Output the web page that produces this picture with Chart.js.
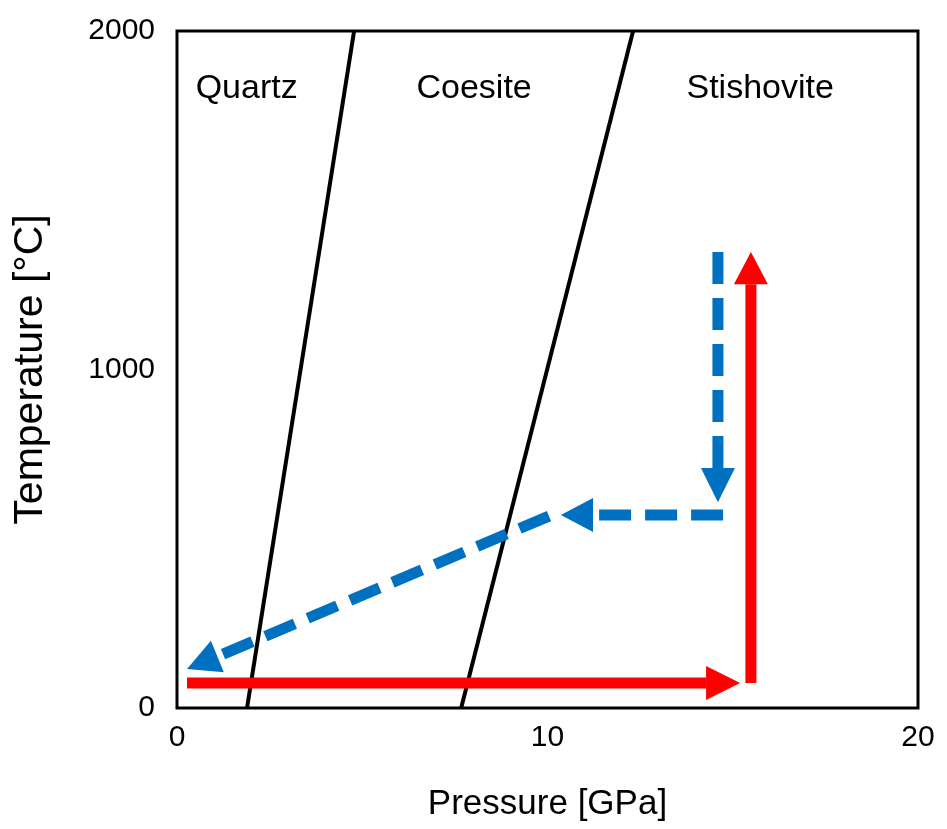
<!DOCTYPE html>
<html>
<head>
<meta charset="utf-8">
<script src="https://cdn.jsdelivr.net/npm/chart.js@4.4.1/dist/chart.umd.min.js"></script>
<style>
  html, body { margin: 0; padding: 0; background: #fff; }
</style>
</head>
<body>
<canvas id="phaseChart" width="947" height="829"></canvas>
<script>
// axis ranges / ticks
const xRange = [0, 20];
const yRange = [0, 2000];
const xStep = 10;
const yStep = 1000;

// phase boundaries (pressure GPa, temperature C)
const quartzCoesite = [{ x: 1.89, y: 0 }, { x: 4.78, y: 2000 }];
const coesiteStishovite = [{ x: 7.67, y: 0 }, { x: 12.31, y: 2000 }];

// phase labels
const phaseNames = ['Quartz', 'Coesite', 'Stishovite'];
const phaseX = [1.88, 8.02, 15.74];
const phaseY = [1829, 1829, 1829];

// compression path (red): line points end at arrow base, tip separately
const redAcross = [{ x: 0.27, y: 74 }, { x: 14.28, y: 74 }];
const redAcrossTip = { x: 15.2, y: 74 };
const redUp = [{ x: 15.49, y: 74 }, { x: 15.49, y: 1252 }];
const redUpTip = { x: 15.49, y: 1347 };

// decompression path (blue dashed)
const blueDown = [{ x: 14.6, y: 1347 }, { x: 14.6, y: 709 }];
const blueDownTip = { x: 14.6, y: 608 };
const blueBack = [{ x: 14.74, y: 570 }, { x: 11.23, y: 570 }];
const blueBackTip = { x: 10.36, y: 570 };
const blueDiag = [{ x: 10.04, y: 567 }, { x: 1.09, y: 152 }];
const blueDiagTip = { x: 0.27, y: 115 };

const RED = '#ff0000';
const BLUE = '#0070c0';

Chart.defaults.font.family = "'Liberation Sans', Arial, sans-serif";
Chart.defaults.color = '#000';

function boundary(data) {
  return { data: data, borderColor: '#000', borderWidth: 4, showLine: true, pointRadius: 0, order: 2 };
}
function arrow(data, tip, color, dashed) {
  return {
    data: data, tip: tip, borderColor: color, borderWidth: 11, showLine: true,
    pointRadius: 0, borderCapStyle: 'butt', borderDash: dashed ? [32, 14] : [], order: 1
  };
}

// draws the triangle heads from the last line point to the tip
const arrowHeads = {
  id: 'arrowHeads',
  afterDatasetsDraw(chart) {
    const { ctx, scales: { x, y } } = chart;
    chart.data.datasets.forEach(ds => {
      if (!ds.tip) return;
      const last = ds.data[ds.data.length - 1];
      const bx = x.getPixelForValue(last.x), by = y.getPixelForValue(last.y);
      const tx = x.getPixelForValue(ds.tip.x), ty = y.getPixelForValue(ds.tip.y);
      const len = Math.hypot(tx - bx, ty - by);
      const nx = -(ty - by) / len * 17, ny = (tx - bx) / len * 17;
      ctx.save();
      ctx.fillStyle = ds.borderColor;
      ctx.beginPath();
      ctx.moveTo(tx, ty);
      ctx.lineTo(bx + nx, by + ny);
      ctx.lineTo(bx - nx, by - ny);
      ctx.closePath();
      ctx.fill();
      ctx.restore();
    });
  }
};

const phaseLabels = {
  id: 'phaseLabels',
  afterDatasetsDraw(chart) {
    const { ctx, scales: { x, y } } = chart;
    ctx.save();
    ctx.font = "34px 'Liberation Sans', Arial, sans-serif";
    ctx.fillStyle = '#000';
    ctx.textAlign = 'center';
    ctx.textBaseline = 'middle';
    phaseNames.forEach((name, i) => {
      ctx.fillText(name, x.getPixelForValue(phaseX[i]), y.getPixelForValue(phaseY[i]));
    });
    ctx.restore();
  }
};

const frame = {
  id: 'frame',
  afterDraw(chart) {
    const { ctx, chartArea: a } = chart;
    ctx.save();
    ctx.strokeStyle = '#000';
    ctx.lineWidth = 3;
    ctx.strokeRect(a.left, a.top, a.right - a.left, a.bottom - a.top);
    ctx.restore();
  }
};

new Chart(document.getElementById('phaseChart'), {
  type: 'scatter',
  data: {
    datasets: [
      boundary(quartzCoesite),
      boundary(coesiteStishovite),
      arrow(redAcross, redAcrossTip, RED, false),
      arrow(redUp, redUpTip, RED, false),
      arrow(blueDown, blueDownTip, BLUE, true),
      arrow(blueBack, blueBackTip, BLUE, true),
      arrow(blueDiag, blueDiagTip, BLUE, true)
    ]
  },
  options: {
    responsive: false,
    animation: false,
    layout: { padding: { left: 0, right: 29, top: 31, bottom: 0 } },
    plugins: { legend: { display: false }, tooltip: { enabled: false } },
    scales: {
      x: {
        type: 'linear',
        min: xRange[0], max: xRange[1],
        grid: { display: false, drawTicks: false },
        border: { display: false },
        ticks: { stepSize: xStep, padding: 12, font: { size: 30 }, callback: v => String(v) },
        title: { display: true, text: 'Pressure [GPa]', font: { size: 35 }, padding: { top: 0, bottom: 4 } },
        afterFit(s) { s.height = 121; }
      },
      y: {
        type: 'linear',
        min: yRange[0], max: yRange[1],
        grid: { display: false, drawTicks: false },
        border: { display: false },
        ticks: { stepSize: yStep, padding: 22, font: { size: 30 }, callback: v => String(v) },
        title: { display: true, text: 'Temperature [°C]', font: { size: 41 }, padding: { top: 6, bottom: 0 } },
        afterFit(s) { s.width = 177; s.paddingTop = 0; s.paddingBottom = 0; }
      }
    }
  },
  plugins: [arrowHeads, phaseLabels, frame]
});
</script>
</body>
</html>
